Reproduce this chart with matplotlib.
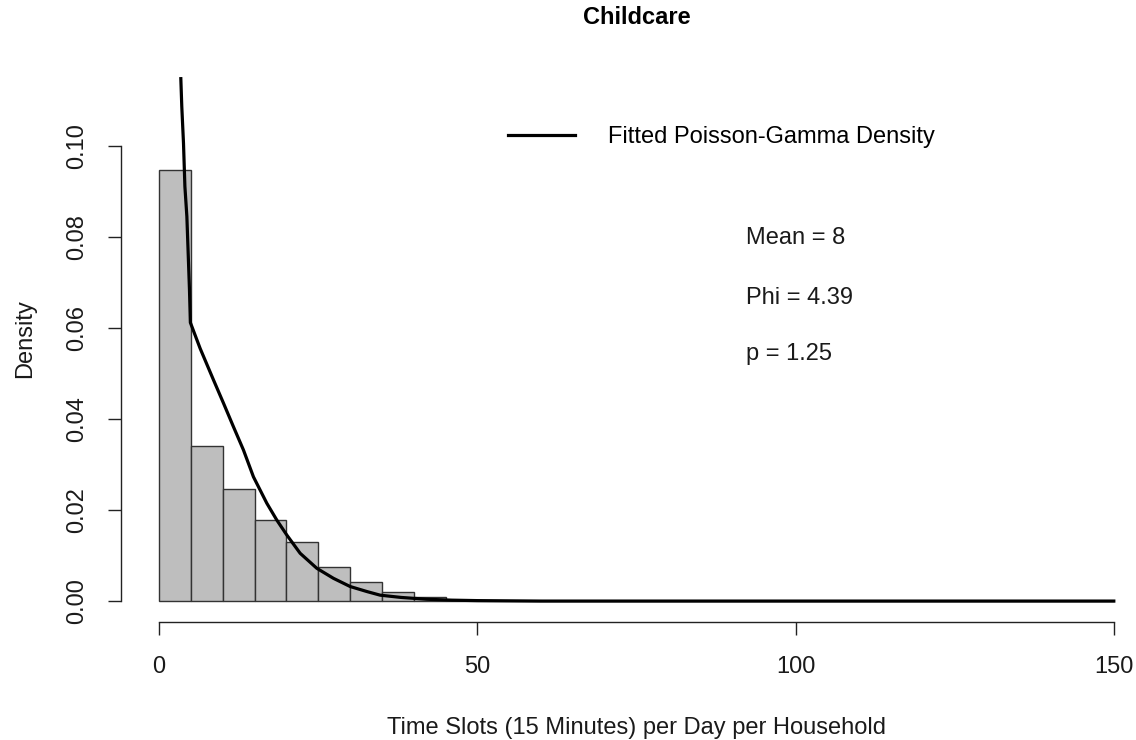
import matplotlib
matplotlib.use("Agg")
import matplotlib.pyplot as plt
import numpy as np

plt.rcParams['font.family'] = ['Liberation Sans', 'DejaVu Sans']

# histogram: 5-unit bins from 0 to 150, density heights
bin_edges = list(range(0, 155, 5))
hist_density = [0.0947, 0.0341, 0.0246, 0.0178, 0.0130, 0.0075, 0.0042, 0.0020, 0.0009] + [0.0] * 21

# fitted Poisson-Gamma density curve
curve_x = [3.40, 3.55, 3.82, 4.04, 4.35, 4.76, 4.90, 6.44, 8.53, 10.10, 11.67, 13.24, 14.81,
           16.91, 18.48, 20.06, 22.15, 24.77, 27.38, 30.0, 32.62, 34.71, 38.0, 42.0,
           46.0, 50.0, 60.0, 80.0, 100.0, 125.0, 150.0]
curve_y = [0.1148, 0.1087, 0.1006, 0.0911, 0.0845, 0.0684, 0.0612, 0.0555, 0.0486, 0.0435,
           0.0383, 0.0332, 0.0273, 0.0215, 0.0178, 0.0145, 0.0105, 0.0072, 0.0050, 0.0032,
           0.0021, 0.0013, 0.0008, 0.0004, 0.0002, 0.0001, 0.0, 0.0, 0.0, 0.0, 0.0]

x_ticks = [0, 50, 100, 150]
y_ticks = [0.00, 0.02, 0.04, 0.06, 0.08, 0.10]
stats_text = ["Mean = 8", "Phi = 4.39", "p = 1.25"]
stats_y = [0.0797, 0.0667, 0.0544]

W, H = 1136, 740
fs = 17
fig = plt.figure(figsize=(W / 100, H / 100), dpi=100)
# plot region in pixels (R style), right edge falls past the cropped image
left, right, top, bottom = 121, 1152, 55, 622
ax = fig.add_axes([left / W, 1 - bottom / H, (right - left) / W, (bottom - top) / H])

widths = np.diff(bin_edges)
ax.bar(bin_edges[:-1], hist_density, width=widths, align='edge',
       color='#bebebe', edgecolor='#333333', linewidth=1.0)
ax.plot(curve_x, curve_y, color='black', linewidth=2.3, label='Fitted Poisson-Gamma Density')

ax.set_xlim(-6, 156)
ax.set_ylim(-0.0046, 0.1200)

for s in ['top', 'right']:
    ax.spines[s].set_visible(False)
ax.spines['left'].set_bounds(0, 0.10)
ax.spines['bottom'].set_bounds(0, 150)
for s in ['left', 'bottom']:
    ax.spines[s].set_color('#222222')
    ax.spines[s].set_linewidth(1.0)

ax.set_xticks(x_ticks)
ax.set_xticklabels([str(t) for t in x_ticks])
ax.set_yticks(y_ticks)
ax.set_yticklabels(['%.2f' % t for t in y_ticks], rotation=90, va='center')
ax.tick_params(axis='both', length=9.5, width=1.0, color='#222222', labelsize=fs,
               labelcolor='#1a1a1a')
ax.tick_params(axis='x', pad=15)
ax.tick_params(axis='y', pad=14)

ax.set_xlabel("Time Slots (15 Minutes) per Day per Household", fontsize=fs,
              color='#1a1a1a', labelpad=28)
ax.set_ylabel("Density", fontsize=fs, color='#1a1a1a', labelpad=22)
ax.set_title("Childcare", fontsize=fs, fontweight='bold', pad=22)

for txt, yy in zip(stats_text, stats_y):
    ax.text(92.2, yy, txt, fontsize=fs, color='#1a1a1a', ha='left', va='center')

ax.legend(loc='center left', bbox_to_anchor=(54.8, 0.1020), bbox_transform=ax.transData,
          frameon=False, fontsize=fs, handlelength=2.85, handletextpad=1.4,
          borderpad=0, borderaxespad=0)

fig.savefig("out.png", dpi=100)
